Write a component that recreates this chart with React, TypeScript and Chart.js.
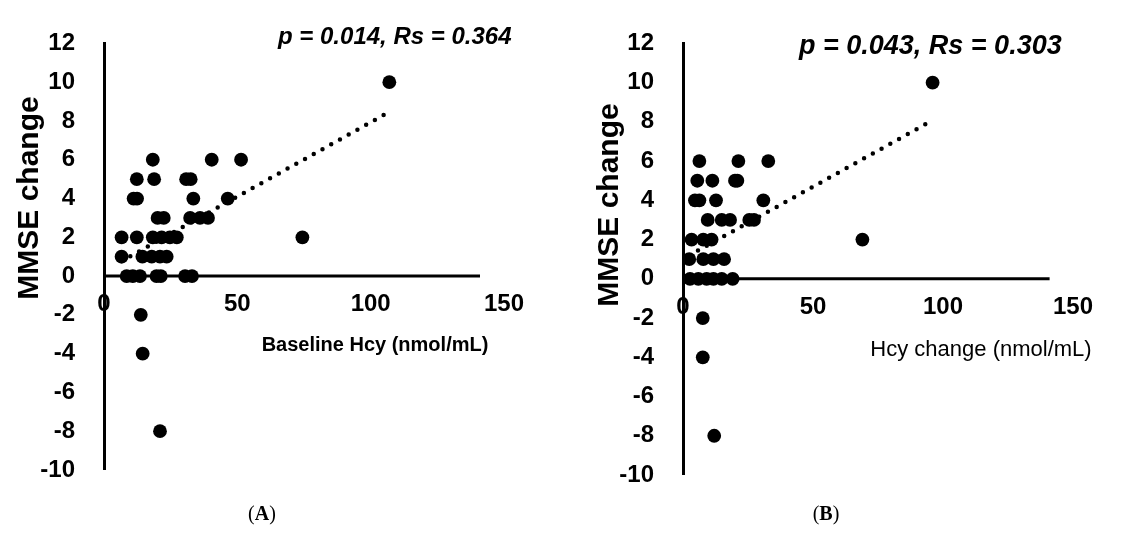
import React, { useEffect, useRef } from "react";
import { Chart, registerables } from "chart.js";

Chart.register(...registerables);

// ---------- Data ----------
const panelA_x = [
  107,
  18.3, 40.4, 51.4,
  12.3, 18.8, 30.8, 32.5,
  11.1, 12.4, 33.5, 46.4,
  20.1, 22.4, 32.3, 36, 39,
  6.6, 12.3, 18.3, 21.6, 24.7, 27.3, 74.4,
  6.6, 14.4, 17.9, 21, 23.5,
  8.5, 10.8, 13.5, 19.7, 21.3, 30.4, 33,
  13.8, 14.5, 21,
];
const panelA_y = [
  10,
  6, 6, 6,
  5, 5, 5, 5,
  4, 4, 4, 4,
  3, 3, 3, 3, 3,
  2, 2, 2, 2, 2, 2, 2,
  1, 1, 1, 1, 1,
  0, 0, 0, 0, 0, 0, 0,
  -2, -4, -8,
];
const panelB_x = [
  96,
  6.3, 21.3, 32.8,
  5.5, 11.3, 20, 20.9,
  4.6, 6.3, 12.7, 30.9,
  9.5, 14.9, 18.1, 25.5, 27.3,
  3.3, 7.8, 11, 69,
  2.4, 7.8, 11.7, 15.8,
  2.7, 5.9, 9.1, 11.7, 14.9, 19.1,
  7.6, 7.6, 12,
];
const panelB_y = [
  10,
  6, 6, 6,
  5, 5, 5, 5,
  4, 4, 4, 4,
  3, 3, 3, 3, 3,
  2, 2, 2, 2,
  1, 1, 1, 1,
  0, 0, 0, 0, 0, 0,
  -2, -4, -8,
];
const trendA_x = [6.6, 107];
const trendA_y = [0.77, 8.47];
const trendB_x = [2.4, 96];
const trendB_y = [1.19, 8.08];

// visible extent of the horizontal (y = 0) axis line
const xAxisLine_x = [0, 141];
const xAxisLine_y = [0, 0];

const yRange = [-10, 12];
const yStep = 2;
const xRange = [0, 150];
const xStep = 50;

const yTitle = "MMSE change";
const xTitleA = "Baseline Hcy (nmol/mL)";
const xTitleB = "Hcy change (nmol/mL)";
const statA = "p = 0.014, Rs = 0.364";
const statB = "p = 0.043, Rs = 0.303";
const labelA = "A";
const labelB = "B";

const SANS = "'Liberation Sans', Arial, sans-serif";
const SERIF = "'Liberation Serif', 'Times New Roman', serif";

type PanelProps = {
  xs: number[];
  ys: number[];
  tx: number[];
  ty: number[];
  xTitle: string;
  xTitleFont: string;
  stat: string;
  statFont: string;
  letter: string;
  left: number;
  area: { left: number; right: number; top: number; bottom: number };
  yTitlePos: [number, number];
  statPos: [number, number];
  xTitlePos: [number, number];
  letterPos: [number, number];
};

const W = 563;
const H = 541;

function Panel(p: PanelProps) {
  const ref = useRef<HTMLCanvasElement>(null);
  useEffect(() => {
    if (!ref.current) return;
    const textPlugin = {
      id: "panelTexts",
      afterDraw(chart: any) {
        const ctx = chart.ctx as CanvasRenderingContext2D;
        ctx.save();
        ctx.fillStyle = "#000";
        // y title
        ctx.save();
        ctx.translate(p.yTitlePos[0], p.yTitlePos[1]);
        ctx.rotate(-Math.PI / 2);
        ctx.font = `bold 30px ${SANS}`;
        ctx.textAlign = "center";
        ctx.textBaseline = "middle";
        ctx.fillText(yTitle, 0, 0);
        ctx.restore();
        // stat annotation
        ctx.font = p.statFont;
        ctx.textAlign = "left";
        ctx.textBaseline = "middle";
        ctx.fillText(p.stat, p.statPos[0], p.statPos[1]);
        // x title
        ctx.font = p.xTitleFont;
        ctx.textAlign = "center";
        ctx.fillText(p.xTitle, p.xTitlePos[0], p.xTitlePos[1]);
        // panel letter "(A)"
        ctx.font = `20px ${SERIF}`;
        const wOpen = ctx.measureText("(").width;
        const wClose = ctx.measureText(")").width;
        ctx.font = `bold 20px ${SERIF}`;
        const wLet = ctx.measureText(p.letter).width;
        const total = wOpen + wLet + wClose;
        const x0 = p.letterPos[0] - total / 2;
        ctx.textAlign = "left";
        ctx.font = `20px ${SERIF}`;
        ctx.fillText("(", x0, p.letterPos[1]);
        ctx.font = `bold 20px ${SERIF}`;
        ctx.fillText(p.letter, x0 + wOpen, p.letterPos[1]);
        ctx.font = `20px ${SERIF}`;
        ctx.fillText(")", x0 + wOpen + wLet, p.letterPos[1]);
        ctx.restore();
      },
    };

    const chart = new Chart(ref.current, {
      type: "scatter",
      data: {
        datasets: [
          {
            type: "line",
            data: xAxisLine_x.map((x, i) => ({ x, y: xAxisLine_y[i] })),
            borderColor: "#000",
            borderWidth: 3,
            pointRadius: 0,
            fill: false,
            clip: false,
            order: 3,
          } as any,
          {
            type: "line",
            data: p.tx.map((x, i) => ({ x, y: p.ty[i] })),
            borderColor: "#000",
            borderWidth: 4.5,
            borderDash: [0, 10],
            borderCapStyle: "round",
            pointRadius: 0,
            fill: false,
            clip: false,
            order: 2,
          } as any,
          {
            type: "scatter",
            data: p.xs.map((x, i) => ({ x, y: p.ys[i] })),
            backgroundColor: "#000",
            borderColor: "#000",
            borderWidth: 0,
            pointRadius: 6.9,
            clip: false,
            order: 1,
          } as any,
        ],
      },
      options: {
        responsive: false,
        animation: false,
        devicePixelRatio: 1,
        layout: {
          padding: {
            left: 0,
            top: p.area.top,
            right: W - p.area.right,
            bottom: H - p.area.bottom,
          },
        },
        plugins: {
          legend: { display: false },
          tooltip: { enabled: false },
          title: { display: false },
        },
        scales: {
          x: {
            type: "linear",
            min: xRange[0],
            max: xRange[1],
            position: { y: 0 } as any,
            grid: { display: false, drawTicks: false, lineWidth: 0 },
            border: { display: false },
            ticks: {
              stepSize: xStep,
              color: "#000",
              font: { family: SANS, size: 24, weight: "bold" },
              padding: 14,
              maxRotation: 0,
              autoSkip: false,
            },
            title: { display: false },
          },
          y: {
            type: "linear",
            position: "left",
            min: yRange[0],
            max: yRange[1],
            grid: { display: false, drawTicks: false, lineWidth: 0 },
            border: { display: true, color: "#000", width: 3 },
            ticks: {
              stepSize: yStep,
              color: "#000",
              font: { family: SANS, size: 24, weight: "bold" },
              padding: 29,
              autoSkip: false,
            },
            afterFit: (s: any) => {
              s.width = p.area.left;
            },
            title: { display: false },
          },
        },
      } as any,
      plugins: [textPlugin],
    });
    return () => chart.destroy();
  }, []);
  return (
    <canvas
      ref={ref}
      width={W}
      height={H}
      style={{ position: "absolute", left: p.left, top: 0, width: W, height: H }}
    />
  );
}

export default function App() {
  return (
    <div
      style={{
        position: "fixed",
        left: 0,
        top: 0,
        width: 1126,
        height: 541,
        background: "#fff",
        overflow: "hidden",
      }}
    >
      <Panel
        xs={panelA_x}
        ys={panelA_y}
        tx={trendA_x}
        ty={trendA_y}
        xTitle={xTitleA}
        xTitleFont={`bold 20px ${SANS}`}
        stat={statA}
        statFont={`italic bold 24px ${SANS}`}
        letter={labelA}
        left={0}
        area={{ left: 104, right: 504, top: 30, bottom: 470 }}
        yTitlePos={[30, 198]}
        statPos={[278, 37]}
        xTitlePos={[375, 345]}
        letterPos={[262, 515]}
      />
      <Panel
        xs={panelB_x}
        ys={panelB_y}
        tx={trendB_x}
        ty={trendB_y}
        xTitle={xTitleB}
        xTitleFont={`22px ${SANS}`}
        stat={statB}
        statFont={`italic bold 27px ${SANS}`}
        letter={labelB}
        left={563}
        area={{ left: 120, right: 510, top: 35, bottom: 475 }}
        yTitlePos={[47, 205]}
        statPos={[236, 47]}
        xTitlePos={[418, 350]}
        letterPos={[263, 515]}
      />
    </div>
  );
}
